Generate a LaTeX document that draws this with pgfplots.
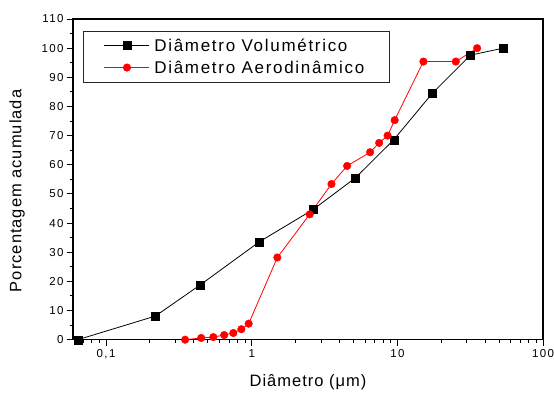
\documentclass[border=0pt]{standalone}
\usepackage{fontspec}
\setmainfont{Liberation Sans}
\newfontfamily\tickfont[LetterSpace=12]{Liberation Sans}
\newfontfamily\labfont[LetterSpace=6]{Liberation Sans}
\newfontfamily\legfont[LetterSpace=10]{Liberation Sans}
\usepackage{pgfplots}
\pgfplotsset{compat=1.18}

\begin{document}
\begin{tikzpicture}
\useasboundingbox (-73pt,-52.3pt) rectangle (481pt,339.7pt);
\begin{axis}[
  at={(0,0)}, anchor=south west,
  scale only axis, width=470pt, height=320.7pt,
  xmode=log, xmin=0.0593, xmax=100,
  ymin=0, ymax=110,
  xtick={0.1,1,10,100}, xticklabels={{0,1},1,10,100},
  minor xtick={0.07,0.08,0.09,0.2,0.3,0.4,0.5,0.6,0.7,0.8,0.9,2,3,4,5,6,7,8,9,20,30,40,50,60,70,80,90},
  ytick={0,10,...,110}, minor ytick={5,15,...,105},
  tick align=outside, xtick pos=left, ytick pos=left,
  major tick length=6pt, minor tick length=3.5pt,
  every tick/.style={black, line width=1pt},
  axis line style={line width=1.2pt},
  /pgf/number format/assume math mode=true,
  ticklabel style={font=\tickfont\fontsize{11.5}{13}\selectfont},
  xlabel={Diâmetro (μm)},
  ylabel={Porcentagem acumulada},
  label style={font=\labfont\fontsize{16.5}{19}\selectfont},
  xlabel style={at={(axis description cs:0.5,-0.131)}, anchor=center},
  ylabel style={at={(axis description cs:-0.119,0.464)}, anchor=center},
  legend style={at={(axis description cs:0.0206,0.9635)}, anchor=north west,
    draw=black!85, line width=0.8pt, font=\legfont\fontsize{17}{20}\selectfont,
    inner xsep=21pt, inner ysep=5.5pt, row sep=4pt,
    nodes={inner xsep=4.5pt}},
  legend cell align=left,
  legend image code/.code={\draw[mark repeat=2,mark phase=2] plot coordinates {(0pt,0pt) (22.5pt,0pt) (45pt,0pt)};},
  clip=false,
]
% volumetric diameter distribution
\addplot[black, line width=0.8pt, mark=square*, mark size=4pt, mark options={solid, line width=0.4pt}] coordinates {
  (0.064,0) (0.218,8.1) (0.443,18.8) (1.13,33.6) (2.65,44.7)
  (5.15,55.5) (9.45,68.6) (17.3,84.4) (31.8,97.6) (53.3,100)
};
\addlegendentry{Diâmetro Volumétrico}
% aerodynamic diameter distribution
\addplot[red, line width=0.8pt, mark=*, mark size=3.8pt, mark options={solid, line width=0.4pt}] coordinates {
  (0.349,0) (0.45,0.6) (0.545,0.9) (0.647,1.6) (0.748,2.3) (0.849,3.6)
  (0.953,5.5) (1.50,28.2) (2.50,43.0) (3.53,53.4) (4.52,59.6) (6.50,64.3)
  (7.50,67.5) (8.57,70.0) (9.58,75.3) (15.1,95.4) (25.2,95.4) (35.3,100)
};
\addlegendentry{Diâmetro Aerodinâmico}
\end{axis}
\end{tikzpicture}
\end{document}
